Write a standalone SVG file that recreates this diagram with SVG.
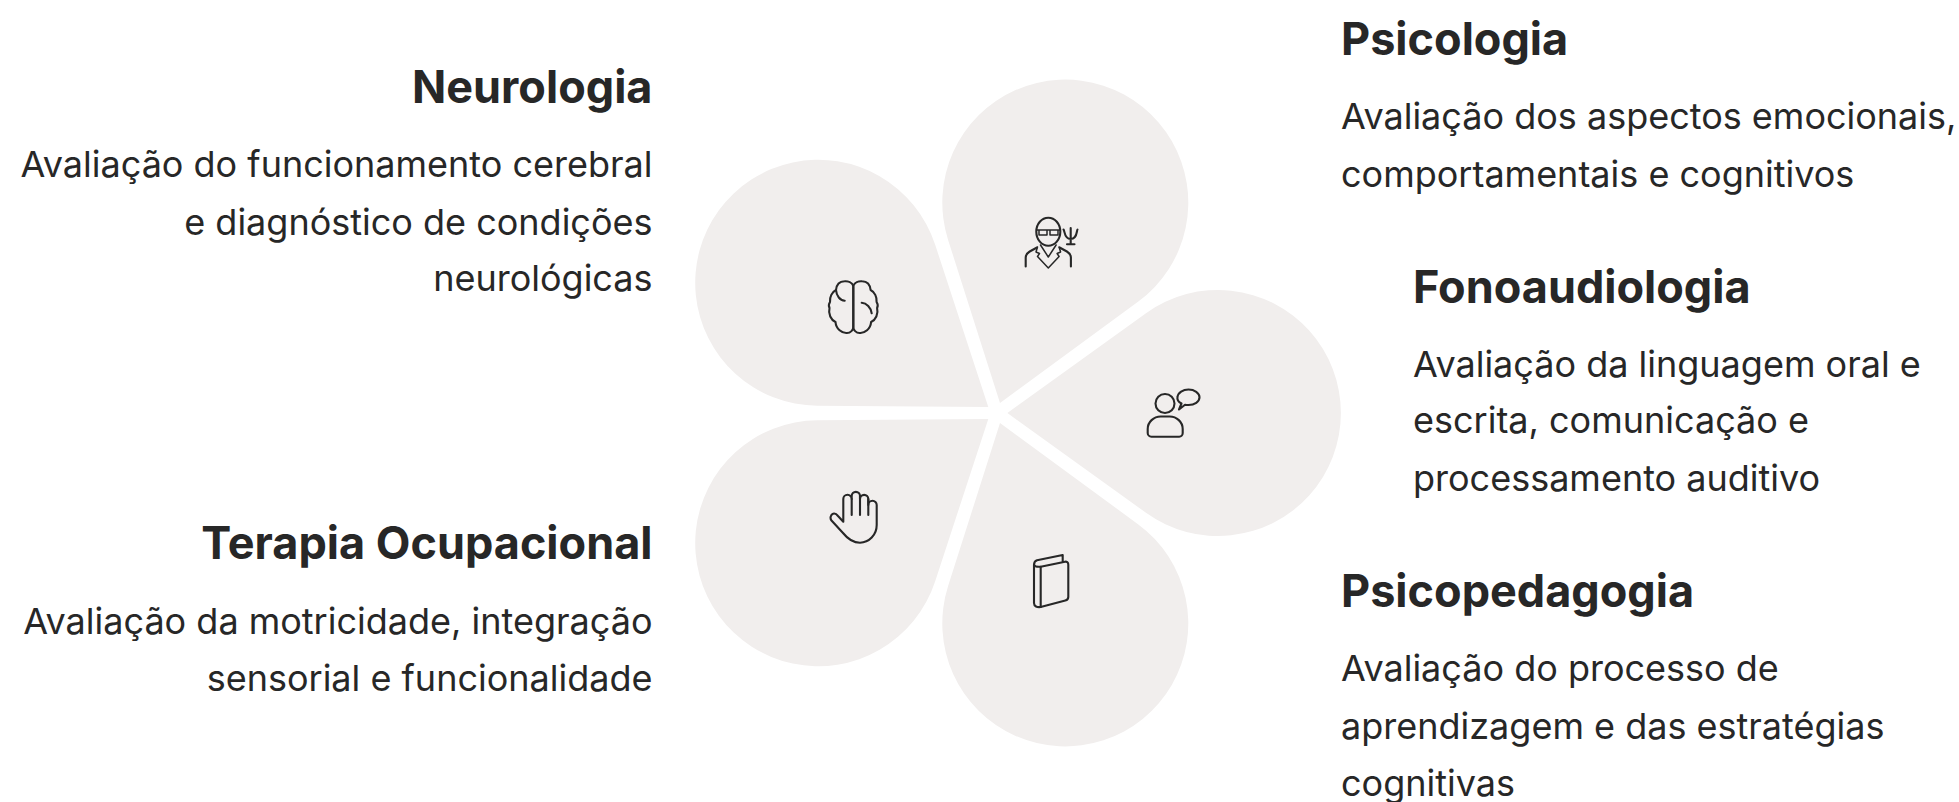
<svg xmlns="http://www.w3.org/2000/svg" width="1959" height="802" viewBox="0 0 1959 802">
<style>
.t{font-family:Inter,"Noto Sans",sans-serif;font-weight:700;font-size:45px;fill:#272727}
.d{font-family:Inter,"Noto Sans",sans-serif;font-size:36px;fill:#272727}
.e{text-anchor:end}
.p{fill:#f1eeed}
.i{fill:none;stroke:#272727;stroke-width:2.1;stroke-linecap:round;stroke-linejoin:round}
.f{stroke-width:1.5}
</style>
<g id="labels">
<text class="t e" x="652.5" y="103">Neurologia</text>
<text class="d e" x="652.5" y="177">Avaliação do funcionamento cerebral</text>
<text class="d e" x="652.5" y="235">e diagnóstico de condições</text>
<text class="d e" x="652.5" y="291">neurológicas</text>
<text class="t e" x="652.5" y="559">Terapia Ocupacional</text>
<text class="d e" x="652.5" y="634">Avaliação da motricidade, integração</text>
<text class="d e" x="652.5" y="691">sensorial e funcionalidade</text>
<text class="t" x="1341" y="55">Psicologia</text>
<text class="d" x="1341" y="129">Avaliação dos aspectos emocionais,</text>
<text class="d" x="1341" y="187">comportamentais e cognitivos</text>
<text class="t" x="1413" y="303">Fonoaudiologia</text>
<text class="d" x="1413" y="377">Avaliação da linguagem oral e</text>
<text class="d" x="1413" y="433">escrita, comunicação e</text>
<text class="d" x="1413" y="491">processamento auditivo</text>
<text class="t" x="1341" y="607">Psicopedagogia</text>
<text class="d" x="1341" y="681">Avaliação do processo de</text>
<text class="d" x="1341" y="739">aprendizagem e das estratégias</text>
<text class="d" x="1341" y="796">cognitivas</text>
</g>
<g id="petal-neurologia"><path class="p" d="M988.3 407L817.3 405.8A123 123 0 1 1 935.1 244.5Z"/>
<g class="i">
<path d="M853.3 286C852 282.5 848 281 844.5 281.3C839.5 281.5 836.5 285 836 290C832 292 829.5 297 830 302Q828 305 829.5 308C828 314 831 320 835.5 322C836 329 842 333.5 847 333C850.5 333 853.3 330 853.3 327V286Z"/>
<path transform="translate(1706.6 0) scale(-1 1)" d="M853.3 286C852 282.5 848 281 844.5 281.3C839.5 281.5 836.5 285 836 290C832 292 829.5 297 830 302Q828 305 829.5 308C828 314 831 320 835.5 322C836 329 842 333.5 847 333C850.5 333 853.3 330 853.3 327V286Z"/>
<path d="M836 290C836.5 296 840 300.5 844.7 300.7M861.7 302.7C866.5 303 871 307.5 871.7 313.3"/>
</g></g>
<g id="petal-terapia"><path class="p" d="M988.3 419L817.3 420.2A123 123 0 1 0 935.1 581.5Z"/>
<g class="i">
<path d="M843.3 521.7V499a4.2 4.2 0 0 1 8.4 0V496a4.15 4.15 0 0 1 8.3 0V499a4.15 4.15 0 0 1 8.3 0V505a4.2 4.2 0 0 1 8.4 0V525C876.7 535 869 542.7 860 542.7C852 542.7 847 538 843 533L831.5 520.5C829.5 518 831 514.5 833 513.8C835 513 836.5 514 838 516Z"/>
<path d="M851.7 499V515M860 496V515M868.3 499V515"/>
</g></g>
<g id="petal-psicologia"><path class="p" d="M1000 403L948.1 239.9A123 123 0 1 1 1138 301.8Z"/>
<g class="i">
<ellipse cx="1048.3" cy="231.7" rx="12" ry="14"/>
<path class="f" d="M1036.5 230H1060M1039 230H1047V235H1039ZM1050 230H1058V235H1050Z"/>
<path d="M1025.7 266.5V257.5C1025.7 254.5 1027.2 253 1029.7 251.5L1037 247.5M1070.9 266.5V257.5C1070.9 254.5 1069.4 253 1066.9 251.5L1059.6 247.5"/>
<path class="f" d="M1037.5 247L1036 252L1039.5 253.5L1037.5 256.5L1048.3 268L1059.1 256.5L1057.1 253.5L1060.6 252L1059.1 247M1040.5 245L1048.3 257L1056.1 245"/>
<path d="M1070.7 228V244.3M1067 244.3H1074.5M1063.5 229.5C1065 231 1064 239 1070.7 239C1077.4 239 1076.4 231 1077.5 229.5"/>
</g></g>
<g id="petal-fonoaudiologia"><path class="p" d="M1007.4 413L1146 313.2A123 123 0 1 1 1146 512.8Z"/>
<g class="i">
<circle cx="1165" cy="403.5" r="9.5"/>
<path d="M1147.7 433V429C1147.7 422 1153.7 416.5 1160.7 416.5H1169.7C1176.7 416.5 1182.7 422 1182.7 429V433C1182.7 435 1181.2 436.7 1179.2 436.7H1151.4C1149.4 436.7 1147.7 435 1147.7 433Z"/>
<path d="M1181.5 403.5C1178.5 402 1177 399.5 1177.5 397C1178 392.5 1183 389.5 1188.5 389.5C1194.5 389.5 1199.5 393 1199.5 397.3C1199.5 401.8 1194.5 405 1188.5 405C1187 405 1186 405 1185 404.7L1179 409.5Z"/>
</g></g>
<g id="petal-psicopedagogia"><path class="p" d="M1000 423L1138 524.2A123 123 0 1 1 948.1 586.1Z"/>
<g class="i">
<path d="M1040.7 566.7L1065 561.7C1067 561.4 1068.3 562.7 1068.3 564.7V597C1068.3 599 1067.3 600 1065.3 600.5L1040.7 607C1037.2 607.5 1034 606.5 1034 603V565C1034 562.5 1035 561 1037 560.3L1062.7 555V561.7"/>
<path d="M1040.7 566.7V607M1034 565C1034.5 566 1037 567 1040.7 566.7"/>
</g></g>
</svg>
